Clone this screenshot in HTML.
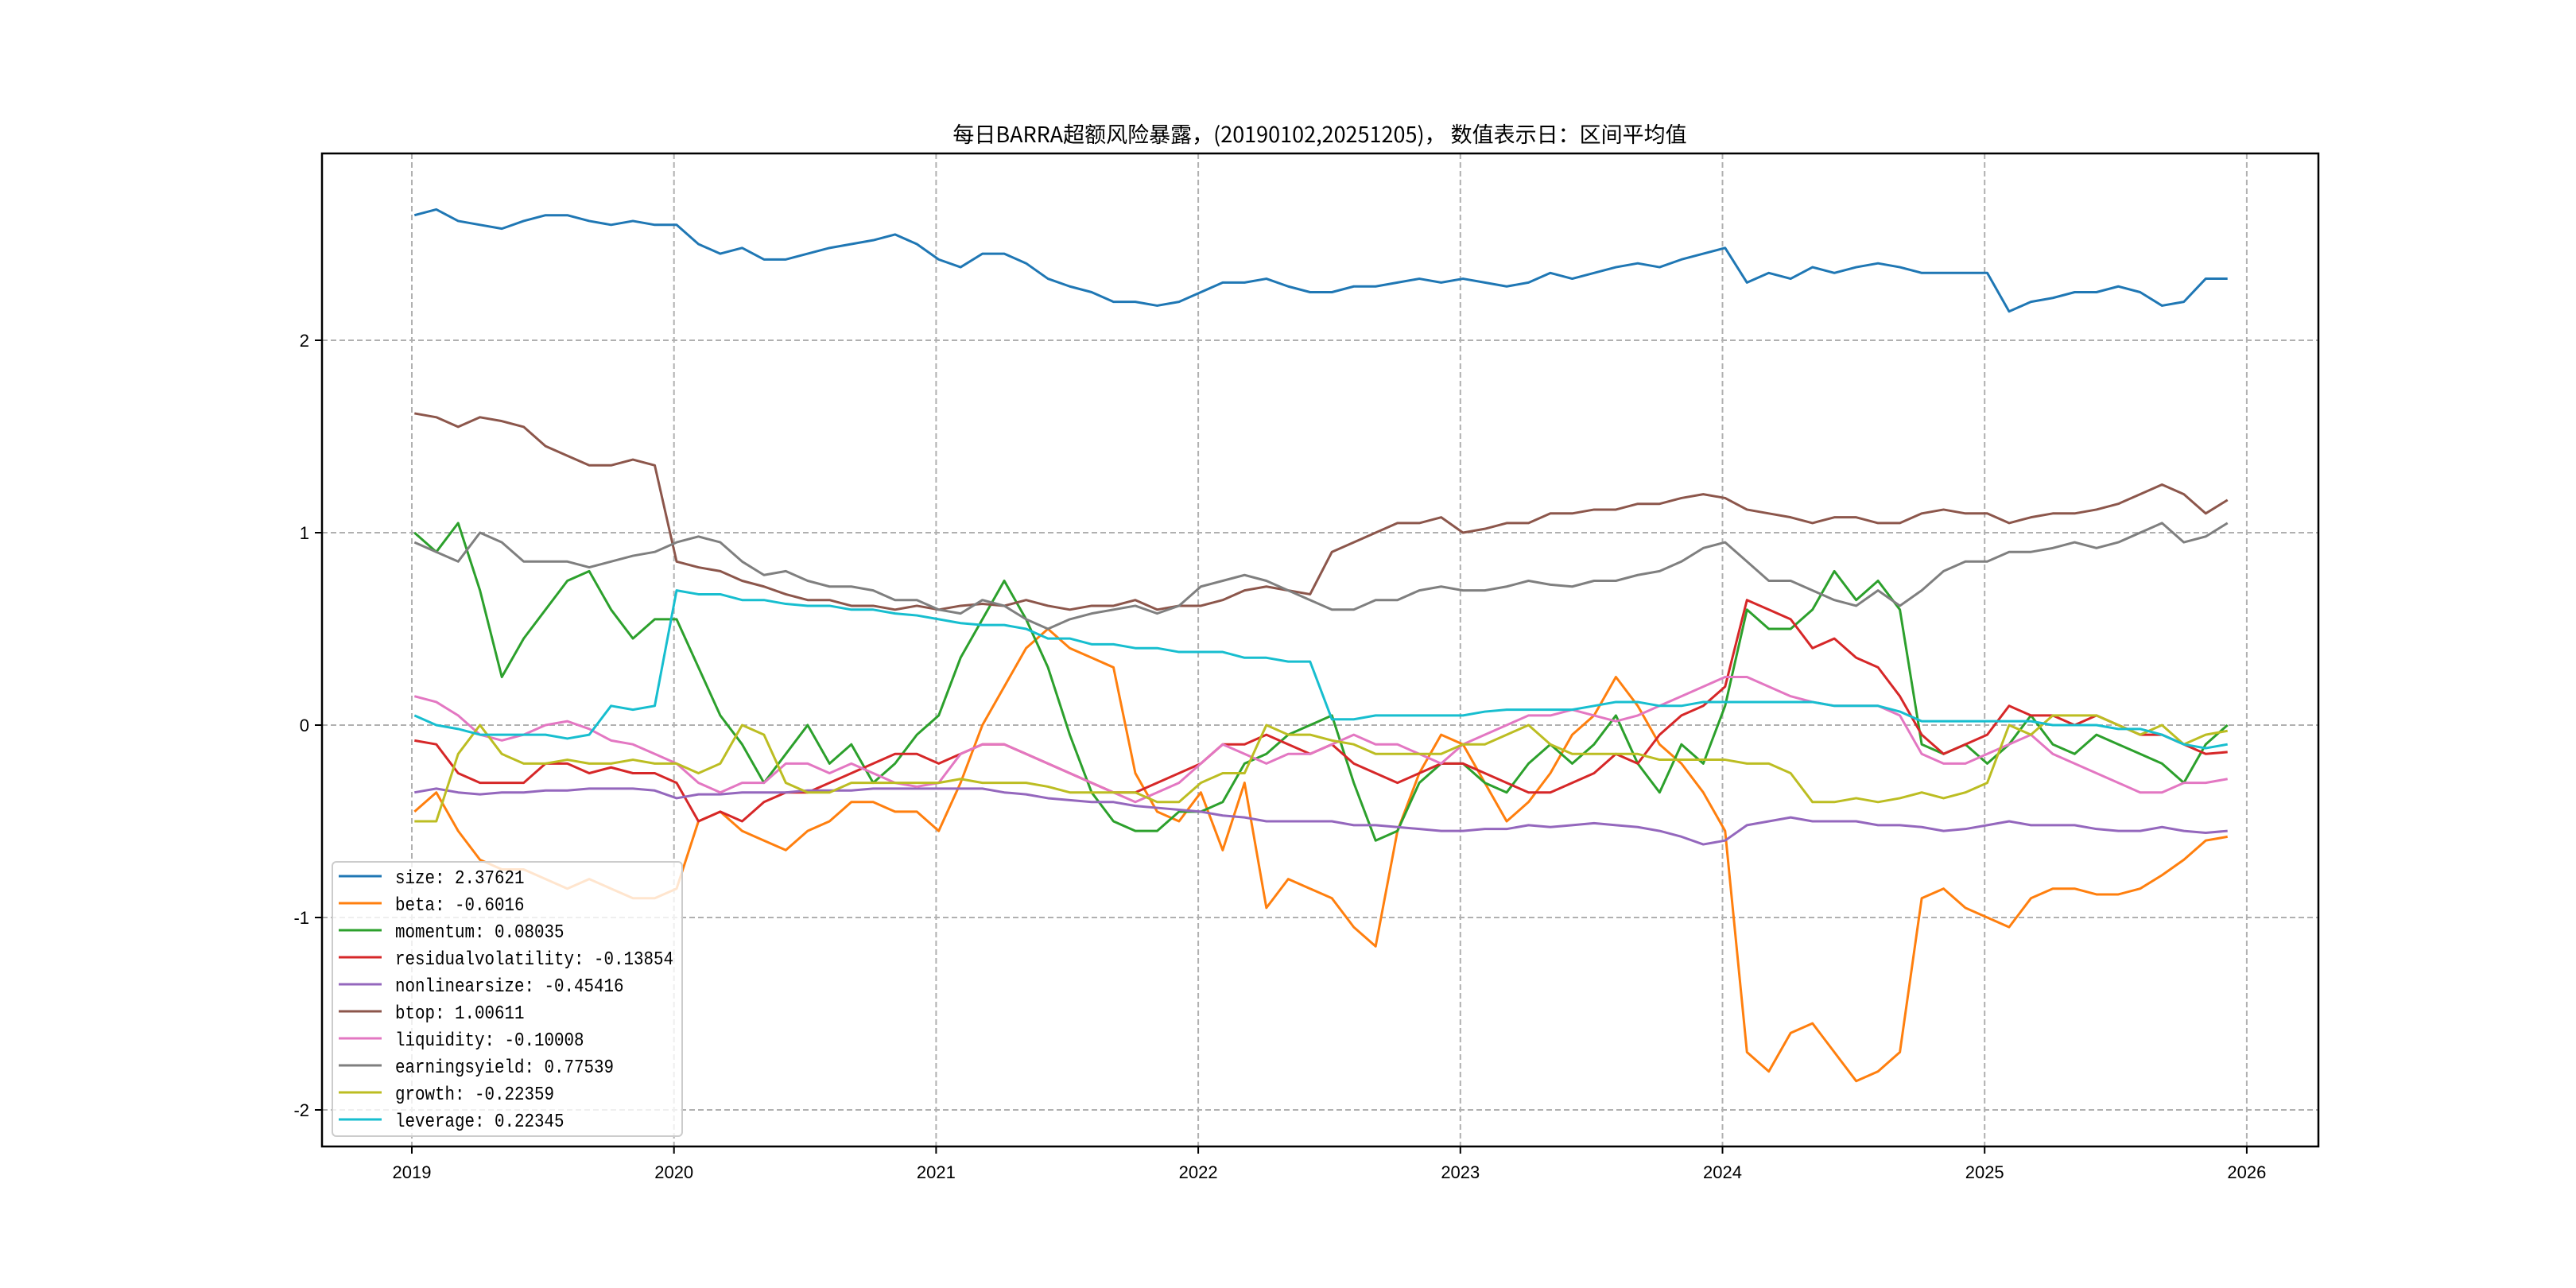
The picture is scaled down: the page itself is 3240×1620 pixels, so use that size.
<!DOCTYPE html>
<html><head><meta charset="utf-8">
<style>
html,body{margin:0;padding:0;background:#fff;}
svg{display:block;}
text{font-family:"Liberation Sans","Noto Sans CJK SC",sans-serif;}
.mono{font-family:"Liberation Mono","Noto Sans CJK SC",monospace;}
</style></head>
<body>
<svg id="chart" width="3240" height="1620" viewBox="0 0 3240 1620" xmlns="http://www.w3.org/2000/svg">
<rect width="3240" height="1620" fill="#fff"/>
<text x="1660" y="179" font-size="27" text-anchor="middle" style="font-family:'Noto Sans CJK SC','WenQuanYi Zen Hei',sans-serif">每日BARRA超额风险暴露，(20190102,20251205)， 数值表示日：区间平均值</text>
<g id="grid"></g>
<g id="series"></g>
<rect x="405" y="193" width="2511" height="1249" fill="none" stroke="#000" stroke-width="2.5"/>
<g id="axes"></g>
<g id="legend"></g>
</svg>
<script>
const xTicks = [2019,2020,2021,2022,2023,2024,2025,2026];
const yTicks = [-2,-1,0,1,2];
const seriesNames = ["size","beta","momentum","residualvolatility","nonlinearsize","btop","liquidity","earningsyield","growth","leverage"];
const legendValues = ["2.37621","-0.6016","0.08035","-0.13854","-0.45416","1.00611","-0.10008","0.77539","-0.22359","0.22345"];
const colors = ["#1f77b4","#ff7f0e","#2ca02c","#d62728","#9467bd","#8c564b","#e377c2","#7f7f7f","#bcbd22","#17becf"];
const startYear = 2019.0;
const size = [2.65,2.68,2.62,2.6,2.58,2.62,2.65,2.65,2.62,2.6,2.62,2.6, 2.6,2.5,2.45,2.48,2.42,2.42,2.45,2.48,2.5,2.52,2.55,2.5, 2.42,2.38,2.45,2.45,2.4,2.32,2.28,2.25,2.2,2.2,2.18,2.2, 2.25,2.3,2.3,2.32,2.28,2.25,2.25,2.28,2.28,2.3,2.32,2.3, 2.32,2.3,2.28,2.3,2.35,2.32,2.35,2.38,2.4,2.38,2.42,2.45, 2.48,2.3,2.35,2.32,2.38,2.35,2.38,2.4,2.38,2.35,2.35,2.35, 2.35,2.15,2.2,2.22,2.25,2.25,2.28,2.25,2.18,2.2,2.32,2.32];
const beta = [-0.45,-0.35,-0.55,-0.7,-0.75,-0.75,-0.8,-0.85,-0.8,-0.85,-0.9,-0.9, -0.85,-0.5,-0.45,-0.55,-0.6,-0.65,-0.55,-0.5,-0.4,-0.4,-0.45,-0.45, -0.55,-0.3,0.0,0.2,0.4,0.5,0.4,0.35,0.3,-0.25,-0.45,-0.5, -0.35,-0.65,-0.3,-0.95,-0.8,-0.85,-0.9,-1.05,-1.15,-0.55,-0.25,-0.05, -0.1,-0.3,-0.5,-0.4,-0.25,-0.05,0.05,0.25,0.1,-0.1,-0.2,-0.35, -0.55,-1.7,-1.8,-1.6,-1.55,-1.7,-1.85,-1.8,-1.7,-0.9,-0.85,-0.95, -1.0,-1.05,-0.9,-0.85,-0.85,-0.88,-0.88,-0.85,-0.78,-0.7,-0.6,-0.58];
const momentum = [1.0,0.9,1.05,0.7,0.25,0.45,0.6,0.75,0.8,0.6,0.45,0.55, 0.55,0.3,0.05,-0.1,-0.3,-0.15,0.0,-0.2,-0.1,-0.3,-0.2,-0.05, 0.05,0.35,0.55,0.75,0.55,0.3,-0.05,-0.35,-0.5,-0.55,-0.55,-0.45, -0.45,-0.4,-0.2,-0.15,-0.05,0.0,0.05,-0.3,-0.6,-0.55,-0.3,-0.2, -0.2,-0.3,-0.35,-0.2,-0.1,-0.2,-0.1,0.05,-0.2,-0.35,-0.1,-0.2, 0.1,0.6,0.5,0.5,0.6,0.8,0.65,0.75,0.6,-0.1,-0.15,-0.1, -0.2,-0.1,0.05,-0.1,-0.15,-0.05,-0.1,-0.15,-0.2,-0.3,-0.1,0.0];
const residualvolatility = [-0.08,-0.1,-0.25,-0.3,-0.3,-0.3,-0.2,-0.2,-0.25,-0.22,-0.25,-0.25, -0.3,-0.5,-0.45,-0.5,-0.4,-0.35,-0.35,-0.3,-0.25,-0.2,-0.15,-0.15, -0.2,-0.15,-0.1,-0.1,-0.15,-0.2,-0.25,-0.3,-0.35,-0.35,-0.3,-0.25, -0.2,-0.1,-0.1,-0.05,-0.1,-0.15,-0.1,-0.2,-0.25,-0.3,-0.25,-0.2, -0.2,-0.25,-0.3,-0.35,-0.35,-0.3,-0.25,-0.15,-0.2,-0.05,0.05,0.1, 0.2,0.65,0.6,0.55,0.4,0.45,0.35,0.3,0.15,-0.05,-0.15,-0.1, -0.05,0.1,0.05,0.05,0.0,0.05,0.0,-0.05,-0.05,-0.1,-0.15,-0.14];
const nonlinearsize = [-0.35,-0.33,-0.35,-0.36,-0.35,-0.35,-0.34,-0.34,-0.33,-0.33,-0.33,-0.34, -0.38,-0.36,-0.36,-0.35,-0.35,-0.35,-0.34,-0.34,-0.34,-0.33,-0.33,-0.33, -0.33,-0.33,-0.33,-0.35,-0.36,-0.38,-0.39,-0.4,-0.4,-0.42,-0.43,-0.44, -0.45,-0.47,-0.48,-0.5,-0.5,-0.5,-0.5,-0.52,-0.52,-0.53,-0.54,-0.55, -0.55,-0.54,-0.54,-0.52,-0.53,-0.52,-0.51,-0.52,-0.53,-0.55,-0.58,-0.62, -0.6,-0.52,-0.5,-0.48,-0.5,-0.5,-0.5,-0.52,-0.52,-0.53,-0.55,-0.54, -0.52,-0.5,-0.52,-0.52,-0.52,-0.54,-0.55,-0.55,-0.53,-0.55,-0.56,-0.55];
const btop = [1.62,1.6,1.55,1.6,1.58,1.55,1.45,1.4,1.35,1.35,1.38,1.35, 0.85,0.82,0.8,0.75,0.72,0.68,0.65,0.65,0.62,0.62,0.6,0.62, 0.6,0.62,0.63,0.62,0.65,0.62,0.6,0.62,0.62,0.65,0.6,0.62, 0.62,0.65,0.7,0.72,0.7,0.68,0.9,0.95,1.0,1.05,1.05,1.08, 1.0,1.02,1.05,1.05,1.1,1.1,1.12,1.12,1.15,1.15,1.18,1.2, 1.18,1.12,1.1,1.08,1.05,1.08,1.08,1.05,1.05,1.1,1.12,1.1, 1.1,1.05,1.08,1.1,1.1,1.12,1.15,1.2,1.25,1.2,1.1,1.17];
const liquidity = [0.15,0.12,0.05,-0.05,-0.08,-0.05,0.0,0.02,-0.02,-0.08,-0.1,-0.15, -0.2,-0.3,-0.35,-0.3,-0.3,-0.2,-0.2,-0.25,-0.2,-0.25,-0.3,-0.32, -0.3,-0.15,-0.1,-0.1,-0.15,-0.2,-0.25,-0.3,-0.35,-0.4,-0.35,-0.3, -0.2,-0.1,-0.15,-0.2,-0.15,-0.15,-0.1,-0.05,-0.1,-0.1,-0.15,-0.2, -0.1,-0.05,0.0,0.05,0.05,0.08,0.05,0.02,0.05,0.1,0.15,0.2, 0.25,0.25,0.2,0.15,0.12,0.1,0.1,0.1,0.05,-0.15,-0.2,-0.2, -0.15,-0.1,-0.05,-0.15,-0.2,-0.25,-0.3,-0.35,-0.35,-0.3,-0.3,-0.28];
const earningsyield = [0.95,0.9,0.85,1.0,0.95,0.85,0.85,0.85,0.82,0.85,0.88,0.9, 0.95,0.98,0.95,0.85,0.78,0.8,0.75,0.72,0.72,0.7,0.65,0.65, 0.6,0.58,0.65,0.62,0.55,0.5,0.55,0.58,0.6,0.62,0.58,0.62, 0.72,0.75,0.78,0.75,0.7,0.65,0.6,0.6,0.65,0.65,0.7,0.72, 0.7,0.7,0.72,0.75,0.73,0.72,0.75,0.75,0.78,0.8,0.85,0.92, 0.95,0.85,0.75,0.75,0.7,0.65,0.62,0.7,0.62,0.7,0.8,0.85, 0.85,0.9,0.9,0.92,0.95,0.92,0.95,1.0,1.05,0.95,0.98,1.05];
const growth = [-0.5,-0.5,-0.15,0.0,-0.15,-0.2,-0.2,-0.18,-0.2,-0.2,-0.18,-0.2, -0.2,-0.25,-0.2,0.0,-0.05,-0.3,-0.35,-0.35,-0.3,-0.3,-0.3,-0.3, -0.3,-0.28,-0.3,-0.3,-0.3,-0.32,-0.35,-0.35,-0.35,-0.35,-0.4,-0.4, -0.3,-0.25,-0.25,0.0,-0.05,-0.05,-0.08,-0.1,-0.15,-0.15,-0.15,-0.15, -0.1,-0.1,-0.05,0.0,-0.1,-0.15,-0.15,-0.15,-0.15,-0.18,-0.18,-0.18, -0.18,-0.2,-0.2,-0.25,-0.4,-0.4,-0.38,-0.4,-0.38,-0.35,-0.38,-0.35, -0.3,0.0,-0.05,0.05,0.05,0.05,0.0,-0.05,0.0,-0.1,-0.05,-0.03];
const leverage = [0.05,0.0,-0.02,-0.05,-0.05,-0.05,-0.05,-0.07,-0.05,0.1,0.08,0.1, 0.7,0.68,0.68,0.65,0.65,0.63,0.62,0.62,0.6,0.6,0.58,0.57, 0.55,0.53,0.52,0.52,0.5,0.45,0.45,0.42,0.42,0.4,0.4,0.38, 0.38,0.38,0.35,0.35,0.33,0.33,0.03,0.03,0.05,0.05,0.05,0.05, 0.05,0.07,0.08,0.08,0.08,0.08,0.1,0.12,0.12,0.1,0.1,0.12, 0.12,0.12,0.12,0.12,0.12,0.1,0.1,0.1,0.07,0.02,0.02,0.02, 0.02,0.02,0.02,0.0,0.0,0.0,-0.02,-0.02,-0.05,-0.1,-0.12,-0.1];
const allSeries = [size,beta,momentum,residualvolatility,nonlinearsize,btop,liquidity,earningsyield,growth,leverage];

const NS = "http://www.w3.org/2000/svg";
const L=405,R=2916,T=193,B=1442;
function xScale(t){ return 518 + (t-2019)*329.7; }
function yScale(v){ return 912 - v*242; }
function mk(tag, attrs, parent){ const e=document.createElementNS(NS,tag); for(const k in attrs) e.setAttribute(k,attrs[k]); parent.appendChild(e); return e; }

const grid=document.getElementById('grid'), axes=document.getElementById('axes');
xTicks.forEach(t=>{
  const x=xScale(t);
  const g=mk('line',{x1:x,x2:x,y1:T,y2:B,stroke:'#b0b0b0','stroke-width':2,'stroke-dasharray':'7,4'},grid);
  
  
  const tk=mk('line',{x1:x,x2:x,y1:B,y2:B+9,stroke:'#000','stroke-width':2},axes);
  
  
  const lb=mk('text',{x:x,y:B+40,'font-size':22,'text-anchor':'middle'},axes);
  lb.textContent=String(t);
  
  
});
yTicks.forEach(v=>{
  const y=yScale(v);
  const g=mk('line',{x1:L,x2:R,y1:y,y2:y,stroke:'#b0b0b0','stroke-width':2,'stroke-dasharray':'7,4'},grid);
  
  
  const tk=mk('line',{x1:L-9,x2:L,y1:y,y2:y,stroke:'#000','stroke-width':2},axes);
  
  
  const lb=mk('text',{x:L-16,y:y+8,'font-size':22,'text-anchor':'end'},axes);
  lb.textContent=String(v);
  
  
});

const sg=document.getElementById('series');
allSeries.forEach((arr,si)=>{
  const p=mk('polyline',{points:arr.map((v,i)=>xScale(startYear+0.01+i/12)+','+yScale(v)).join(' '),fill:'none',stroke:colors[si],'stroke-width':3,'stroke-linejoin':'round'},sg);
  
  
});

const lg=document.getElementById('legend');
const box=mk('rect',{x:418,y:1084,width:440,height:345,rx:5,fill:'#fff','fill-opacity':0.8,stroke:'#cccccc','stroke-width':2},lg);


seriesNames.forEach((n,i)=>{
  const y=1102+i*34;
  const ln=mk('line',{x1:426,x2:480,y1:y,y2:y,stroke:colors[i],'stroke-width':3},lg);
  
  
  const label=n+': '+legendValues[i];
  const tx=mk('text',{x:497,y:y+9,'font-size':24,'class':'mono',textLength:(label.length*12.5).toFixed(1),lengthAdjust:'spacingAndGlyphs'},lg);
  tx.textContent=label;
  
  
});
</script>
</body></html>
